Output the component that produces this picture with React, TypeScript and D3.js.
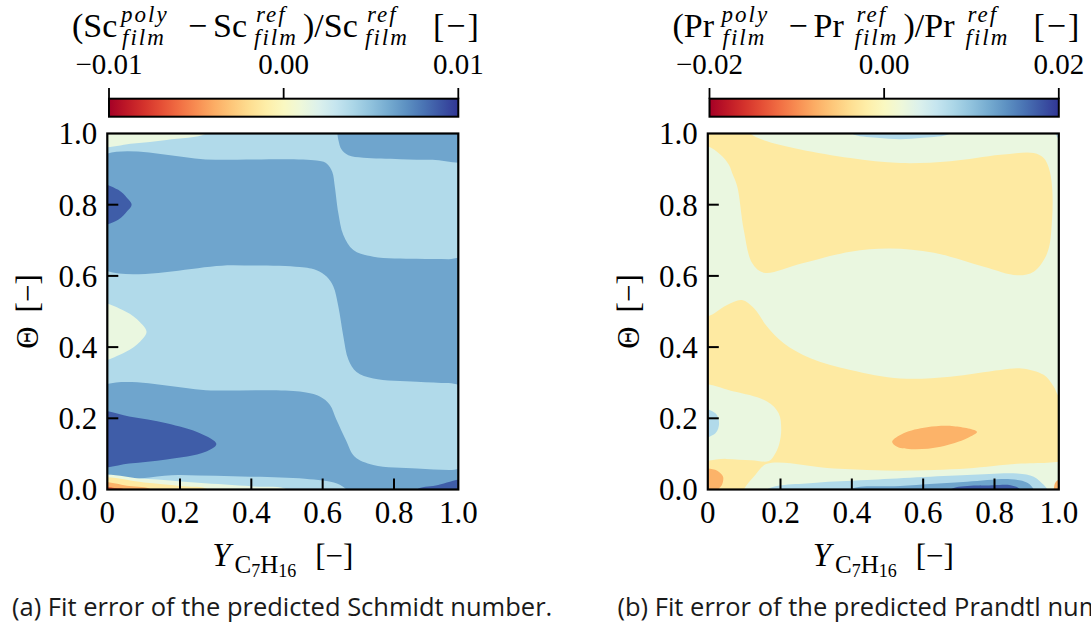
import React from 'react';
import * as d3 from 'd3';

type Pt = [number, number];

// ---------- common axis data ----------
const bandCount = 8;
const xTickValues = [0, 0.2, 0.4, 0.6, 0.8, 1.0];
const xTickLabels = ['0', '0.2', '0.4', '0.6', '0.8', '1.0'];
const yTickValues = [0, 0.2, 0.4, 0.6, 0.8, 1.0];
const yTickLabels = ['0.0', '0.2', '0.4', '0.6', '0.8', '1.0'];
const innerTicks = [0.2, 0.4, 0.6, 0.8];

// ---------- Schmidt panel ----------
const scLimits: [number, number] = [-0.01, 0.01];
const scCbarTicks = [-0.01, 0, 0.01];
const scCbarLabels = ['−0.01', '0.00', '0.01'];
const scBackgroundBand = 5;
const scTopPale: Pt[] = [[-0.03, 1.03], [0.3, 1.03], [0.274, 1.0], [0.163, 0.982], [0.072, 0.972], [-0.03, 0.967]];
const scTopRight: Pt[] = [[0.635, 1.03], [0.641, 1.0], [0.644, 0.982], [0.653, 0.955], [0.672, 0.939], [0.714, 0.932], [0.82, 0.928], [0.92, 0.926], [1.03, 0.925], [1.03, 1.03]];
const scBandUpper: Pt[] = [[-0.03, 0.926], [0.3, 0.926], [0.583, 0.924], [0.611, 0.916], [0.627, 0.892], [0.634, 0.851], [0.644, 0.776], [0.658, 0.715], [0.686, 0.673], [0.742, 0.654], [0.871, 0.648], [0.97, 0.647], [1.03, 0.647],
  [1.03, 0.298], [0.97, 0.299], [0.871, 0.303], [0.742, 0.312], [0.695, 0.33], [0.672, 0.365], [0.658, 0.43], [0.644, 0.514], [0.63, 0.57], [0.611, 0.598], [0.583, 0.616], [0.536, 0.625], [0.35, 0.63], [-0.03, 0.631]];
const scDarkUpper: Pt[] = [[-0.03, 0.858], [0.03, 0.842], [0.055, 0.818], [0.067, 0.8], [0.055, 0.782], [0.03, 0.758], [-0.03, 0.744]];
const scPaleMiddle: Pt[] = [[-0.03, 0.522], [0.05, 0.5], [0.09, 0.47], [0.108, 0.443], [0.09, 0.415], [0.05, 0.386], [-0.03, 0.364]];
const scBandLower: Pt[] = [[-0.03, 0.28], [0.3, 0.278], [0.536, 0.275], [0.592, 0.261], [0.62, 0.238], [0.639, 0.195], [0.665, 0.139], [0.69, 0.092], [0.742, 0.069], [0.871, 0.059], [0.97, 0.055], [1.03, 0.054], [1.03, -0.03],
  [0.69, -0.03], [0.667, 0.0], [0.64, 0.017], [0.55, 0.03], [0.396, 0.036], [0.2, 0.041], [-0.03, 0.046]];
const scDarkLower: Pt[] = [[-0.03, 0.216], [0.06, 0.205], [0.163, 0.186], [0.256, 0.158], [0.302, 0.128], [0.27, 0.105], [0.163, 0.084], [0.06, 0.073], [-0.03, 0.068]];
const scDarkCorner: Pt[] = [[0.85, -0.03], [0.871, 0.0], [0.93, 0.011], [1.03, 0.026], [1.03, -0.03]];
const scPaleBottom: Pt[] = [[-0.03, 0.035], [0.1, 0.03], [0.25, 0.019], [0.4, 0.009], [0.5, 0.0], [0.52, -0.03], [-0.03, -0.03]];
const scYellowBottom: Pt[] = [[-0.03, 0.028], [0.1, 0.02], [0.2, 0.01], [0.28, 0.0], [0.3, -0.03], [-0.03, -0.03]];
const scOrangeBottom: Pt[] = [[-0.03, 0.018], [0.06, 0.01], [0.12, 0.0], [0.13, -0.03], [-0.03, -0.03]];
const scRedBottom: Pt[] = [[-0.03, 0.008], [0.02, 0.004], [0.045, 0.0], [0.05, -0.03], [-0.03, -0.03]];
const scRegions = [
  { band: 4, pts: scTopPale },
  { band: 6, pts: scTopRight },
  { band: 6, pts: scBandUpper },
  { band: 7, pts: scDarkUpper },
  { band: 4, pts: scPaleMiddle },
  { band: 6, pts: scBandLower },
  { band: 7, pts: scDarkLower },
  { band: 7, pts: scDarkCorner },
  { band: 4, pts: scPaleBottom },
  { band: 3, pts: scYellowBottom },
  { band: 2, pts: scOrangeBottom },
  { band: 1, pts: scRedBottom },
];

// ---------- Prandtl panel ----------
const prLimits: [number, number] = [-0.02, 0.02];
const prCbarTicks = [-0.02, 0, 0.02];
const prCbarLabels = ['−0.02', '0.00', '0.02'];
const prBackgroundBand = 4;
const prYellowUpper: Pt[] = [[-0.03, 1.03], [0.1, 1.03], [0.117, 1.0], [0.163, 0.978], [0.256, 0.955], [0.396, 0.931], [0.536, 0.917], [0.676, 0.922], [0.819, 0.94], [0.922, 0.945], [0.953, 0.931], [0.969, 0.903], [0.979, 0.851], [0.979, 0.757], [0.964, 0.664], [0.922, 0.612], [0.871, 0.602], [0.77, 0.626], [0.63, 0.665], [0.508, 0.677], [0.396, 0.668], [0.256, 0.634], [0.154, 0.609], [0.122, 0.636], [0.099, 0.729], [0.081, 0.851], [0.067, 0.889], [0.058, 0.912], [0.035, 0.94], [0.0, 0.964], [-0.03, 0.966]];
const prBlueTop: Pt[] = [[0.38, 1.03], [0.4, 1.0], [0.47, 0.988], [0.536, 0.984], [0.6, 0.988], [0.676, 1.0], [0.7, 1.03]];
const prBlueTopRight: Pt[] = [[0.985, 1.03], [0.99, 1.0], [1.0, 0.985], [1.03, 0.98], [1.03, 1.03]];
const prYellowLower: Pt[] = [[-0.03, 0.487], [0.0, 0.486], [0.053, 0.518], [0.094, 0.532], [0.127, 0.509], [0.163, 0.458], [0.209, 0.411], [0.284, 0.369], [0.396, 0.336], [0.536, 0.312], [0.676, 0.317], [0.819, 0.336], [0.884, 0.34], [0.953, 0.322], [0.984, 0.289], [1.0, 0.261], [1.03, 0.24],
  [1.03, 0.08], [1.0, 0.078], [0.964, 0.075], [0.871, 0.072], [0.723, 0.059], [0.536, 0.053], [0.35, 0.059], [0.163, 0.072], [0.13, 0.04], [0.099, 0.0], [0.09, -0.03], [-0.03, -0.03]];
const prPaleIsland: Pt[] = [[-0.03, 0.29], [0.072, 0.275], [0.163, 0.247], [0.195, 0.214], [0.202, 0.17], [0.197, 0.13], [0.186, 0.102], [0.168, 0.08], [0.12, 0.082], [0.05, 0.086], [-0.03, 0.089]];
const prBlueLeft: Pt[] = [[-0.03, 0.228], [0.021, 0.214], [0.031, 0.186], [0.021, 0.158], [-0.03, 0.144]];
const prOrangeEllipse: Pt[] = [[0.513, 0.134], [0.545, 0.158], [0.611, 0.175], [0.686, 0.178], [0.751, 0.162], [0.723, 0.144], [0.649, 0.12], [0.573, 0.113], [0.527, 0.12]];
const prOrangeCorner: Pt[] = [[-0.03, 0.062], [0.0, 0.059], [0.026, 0.053], [0.042, 0.036], [0.039, 0.013], [0.03, 0.0], [0.03, -0.03], [-0.03, -0.03]];
const prBlueBottom: Pt[] = [[0.15, -0.03], [0.163, 0.0], [0.3, 0.019], [0.443, 0.027], [0.723, 0.041], [0.871, 0.045], [0.922, 0.036], [0.953, 0.013], [0.964, 0.0], [0.97, -0.03]];
const prMidBlueBottom: Pt[] = [[0.38, -0.03], [0.396, 0.0], [0.536, 0.01], [0.723, 0.022], [0.85, 0.029], [0.902, 0.019], [0.922, 0.0], [0.93, -0.03]];
const prDarkBottom: Pt[] = [[0.66, -0.03], [0.676, 0.0], [0.798, 0.012], [0.85, 0.012], [0.881, 0.0], [0.89, -0.03]];
const prOrangeRight: Pt[] = [[0.975, -0.03], [0.984, 0.0], [0.991, 0.022], [1.03, 0.035], [1.03, -0.03]];
const prRegions = [
  { band: 3, pts: prYellowUpper },
  { band: 5, pts: prBlueTop },
  { band: 5, pts: prBlueTopRight },
  { band: 3, pts: prYellowLower },
  { band: 4, pts: prPaleIsland },
  { band: 5, pts: prBlueLeft },
  { band: 2, pts: prOrangeEllipse },
  { band: 2, pts: prOrangeCorner },
  { band: 5, pts: prBlueBottom },
  { band: 6, pts: prMidBlueBottom },
  { band: 7, pts: prDarkBottom },
  { band: 2, pts: prOrangeRight },
];

const SERIF = '"Liberation Serif", "DejaVu Serif", serif';
const SANS = '"Open Sans", "Noto Sans", sans-serif';

type Region = { band: number; pts: Pt[] };

function Panel(props: {
  id: string; dx: number; sym: string; limits: [number, number]; cbTicks: number[]; cbLabels: string[];
  bg: number; regions: Region[]; caption: string;
}) {
  const { id, dx, sym, limits, cbTicks, cbLabels, bg, regions, caption } = props;
  const xs = d3.scaleLinear().domain([0, 0.2, 0.8, 1]).range([107.3 + dx, 180 + dx, 394 + dx, 458.3 + dx]);
  const ys = d3.scaleLinear().domain([0, 1]).range([489.5, 133.5]);
  const levels = d3.range(bandCount + 1).map((k) => limits[0] + (k * (limits[1] - limits[0])) / bandCount);
  const cmap = d3.scaleSequential(d3.interpolateRdYlBu).domain(limits);
  const bandColor = (i: number) => cmap((levels[i] + levels[i + 1]) / 2);
  const line = d3.line<Pt>().x((d) => xs(d[0])).y((d) => ys(d[1])).curve(d3.curveCatmullRomClosed.alpha(0.5));
  const cb = d3.scaleLinear().domain(limits).range([109 + dx, 458.3 + dx]);
  const x0 = xs(0), x1 = xs(1), y0 = ys(0), y1 = ys(1);
  const stops = d3.range(0, 1.0001, 0.05);
  const scriptStyle = { fontStyle: 'italic' as const, fontSize: 23, letterSpacing: 2 };
  const titleMain = 34;
  const yb = 37, ysup = 22, ysub = 45;
  const cxLabel = (x0 + x1) / 2;
  return (
    <g>
      <defs>
        <clipPath id={`clip-${id}`}>
          <rect x={x0} y={y1} width={x1 - x0} height={y0 - y1} />
        </clipPath>
        <linearGradient id={`grad-${id}`} x1="0" x2="1" y1="0" y2="0">
          {stops.map((t) => (
            <stop key={t} offset={t} stopColor={d3.interpolateRdYlBu(t)} />
          ))}
        </linearGradient>
      </defs>
      {/* colorbar title */}
      <g fontFamily={SERIF} fill="#000">
        <text x={72 + dx} y={yb} fontSize={titleMain}>({sym}</text>
        <text x={121 + dx} y={ysup} {...scriptStyle}>poly</text>
        <text x={122 + dx} y={ysub} {...scriptStyle}>film</text>
        <text x={197.5 + dx} y={yb} fontSize={titleMain} textAnchor="middle">−</text>
        <text x={213 + dx} y={yb} fontSize={titleMain}>{sym}</text>
        <text x={256 + dx} y={ysup} {...scriptStyle}>ref</text>
        <text x={254 + dx} y={ysub} {...scriptStyle}>film</text>
        <text x={303 + dx} y={yb} fontSize={titleMain}>)/{sym}</text>
        <text x={367 + dx} y={ysup} {...scriptStyle}>ref</text>
        <text x={365 + dx} y={ysub} {...scriptStyle}>film</text>
        <text x={433 + dx} y={yb} fontSize={titleMain} letterSpacing={2}>[−]</text>
      </g>
      {/* colorbar */}
      <rect x={cb(limits[0])} y={98.7} width={cb(limits[1]) - cb(limits[0])} height={18} fill={`url(#grad-${id})`} stroke="#000" strokeWidth={2} />
      {cbTicks.map((v, i) => (
        <g key={v}>
          <line x1={cb(v)} x2={cb(v)} y1={88} y2={98.7} stroke="#000" strokeWidth={1.8} />
          <text x={cb(v)} y={74} fontFamily={SERIF} fontSize={29} textAnchor="middle">{cbLabels[i]}</text>
        </g>
      ))}
      {/* contour fill */}
      <g clipPath={`url(#clip-${id})`}>
        <rect x={x0} y={y1} width={x1 - x0} height={y0 - y1} fill={bandColor(bg)} />
        {regions.map((r, i) => (
          <path key={i} d={line(r.pts) || ''} fill={bandColor(r.band)} />
        ))}
      </g>
      {/* ticks */}
      {innerTicks.map((v) => (
        <g key={v}>
          <line x1={x0} x2={x0 + 11} y1={ys(v)} y2={ys(v)} stroke="#000" strokeWidth={2} />
          <line x1={xs(v)} x2={xs(v)} y1={y0} y2={y0 - 11} stroke="#000" strokeWidth={2} />
        </g>
      ))}
      <rect x={x0} y={y1} width={x1 - x0} height={y0 - y1} fill="none" stroke="#000" strokeWidth={2.2} />
      {/* tick labels */}
      <g fontFamily={SERIF} fontSize={31} fill="#000">
        {yTickValues.map((v, i) => (
          <text key={v} x={x0 - 10} y={ys(v)} dy="0.35em" textAnchor="end">{yTickLabels[i]}</text>
        ))}
        {xTickValues.map((v, i) => (
          <text key={v} x={xs(v)} y={523} textAnchor="middle">{xTickLabels[i]}</text>
        ))}
      </g>
      {/* axis labels */}
      <text x={cxLabel} y={566} textAnchor="middle" fontFamily={SERIF} fontSize={31}>
        <tspan fontStyle="italic" fontSize={33}>Y</tspan>
        <tspan fontSize={25} dy={7} dx={4}>C</tspan>
        <tspan fontSize={18} dy={4}>7</tspan>
        <tspan fontSize={25} dy={-4}>H</tspan>
        <tspan fontSize={18} dy={4}>16</tspan>
        <tspan dy={-11} dx={19}>[−]</tspan>
      </text>
      <text transform={`translate(${38 + dx},${(y0 + y1) / 2}) rotate(-90)`} textAnchor="middle" fontFamily={SERIF} fontSize={31}>
        <tspan>Θ</tspan>
        <tspan dx={14}>[−]</tspan>
      </text>
      {/* caption */}
      <text x={12 + dx + (dx ? 5 : 0)} y={616} fontFamily={SANS} fontSize={25.5} fill="#1a1a1a">{caption}</text>
    </g>
  );
}

export default function App() {
  return (
    <svg width={1091} height={628} style={{ position: 'absolute', left: 0, top: 0, background: '#fff' }}>
      <rect width={1091} height={628} fill="#fff" />
      <Panel id="sc" dx={0} sym="Sc" limits={scLimits} cbTicks={scCbarTicks} cbLabels={scCbarLabels} bg={scBackgroundBand} regions={scRegions} caption="(a) Fit error of the predicted Schmidt number." />
      <Panel id="pr" dx={600.5} sym="Pr" limits={prLimits} cbTicks={prCbarTicks} cbLabels={prCbarLabels} bg={prBackgroundBand} regions={prRegions} caption="(b) Fit error of the predicted Prandtl number." />
    </svg>
  );
}
